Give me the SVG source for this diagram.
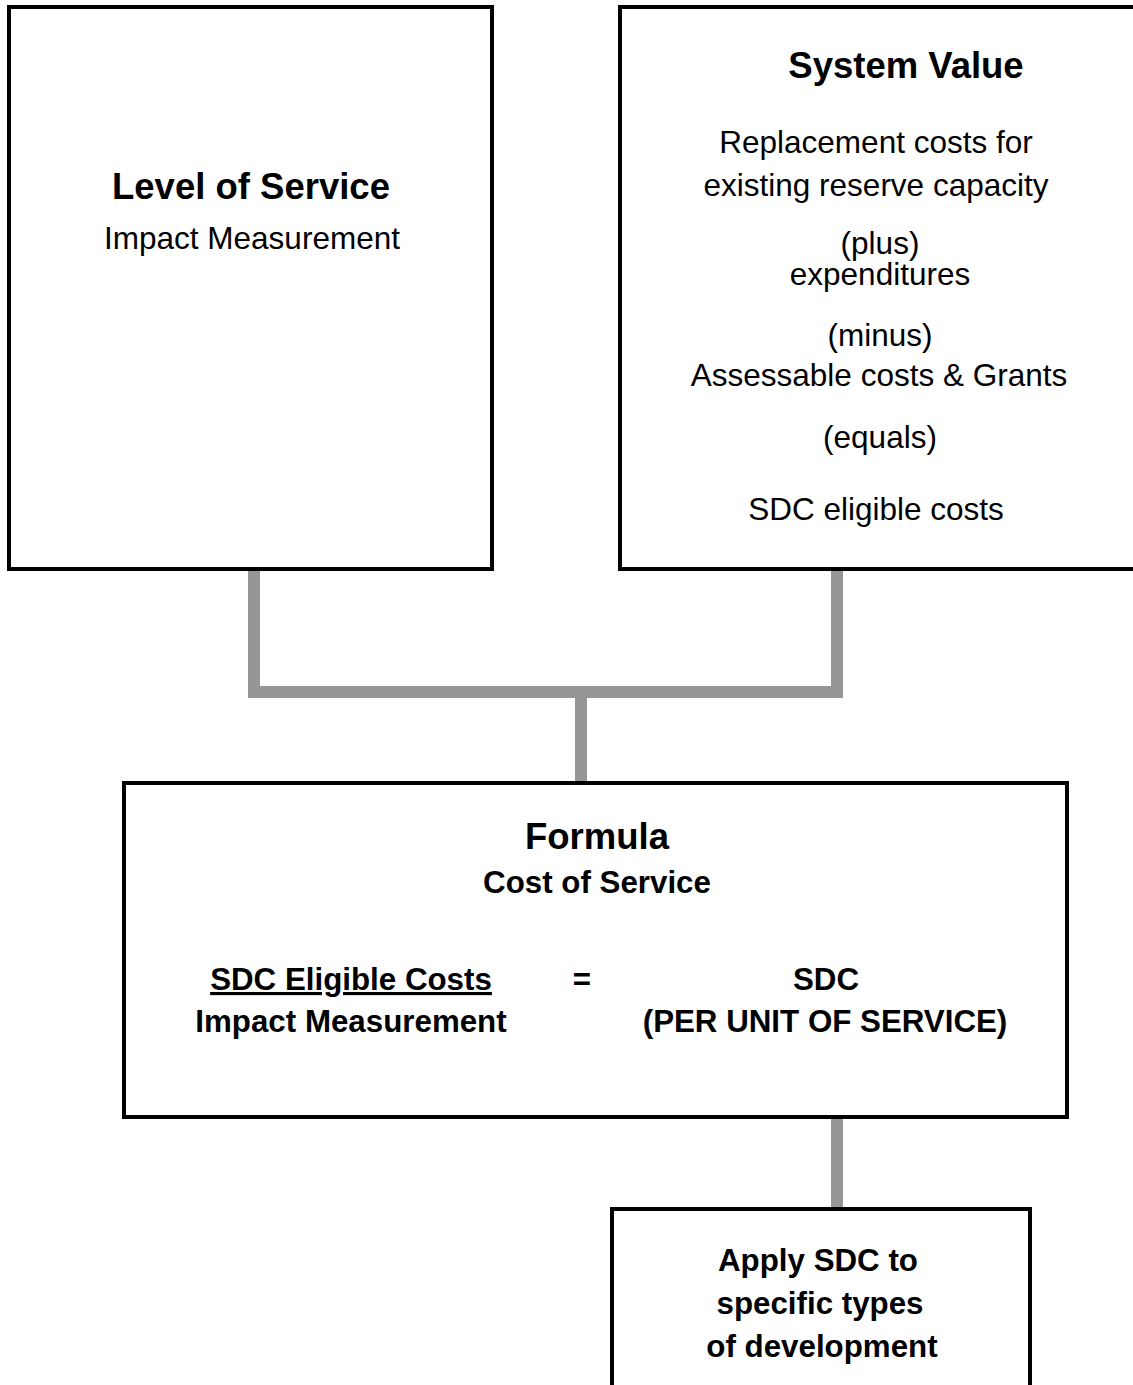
<svg xmlns="http://www.w3.org/2000/svg" width="1133" height="1385" viewBox="0 0 1133 1385">
<style>
.box{fill:#fff;stroke:#000;stroke-width:4}
.conn{fill:none;stroke:#969696;stroke-width:12;stroke-linejoin:miter;stroke-linecap:butt}
text{font-family:"Liberation Sans",Arial,sans-serif;fill:#000;text-anchor:middle}
.t{font-size:36.5px;font-weight:bold}
.r{font-size:31.5px}
.b{font-size:31.3px;font-weight:bold}
</style>
<rect width="1133" height="1385" fill="#fff"/>
<g id="connectors">
<path class="conn" d="M254 571 V692 H837 V571"/>
<path class="conn" d="M581 692 V781"/>
<path class="conn" d="M837 1119 V1207"/>
</g>
<g id="level-of-service">
<rect class="box" x="9" y="7" width="483" height="562"/>
<text class="t" x="251" y="199">Level of Service</text>
<text class="r" x="252" y="249">Impact Measurement</text>
</g>
<g id="system-value">
<rect class="box" x="620" y="7" width="600" height="562"/>
<text class="t" x="906" y="78">System Value</text>
<text class="r" x="876" y="153">Replacement costs for</text>
<text class="r" x="876" y="196">existing reserve capacity</text>
<text class="r" x="880" y="254">(plus)</text>
<text class="r" x="880" y="285">expenditures</text>
<text class="r" x="880" y="346">(minus)</text>
<text class="r" x="879" y="386">Assessable costs &amp; Grants</text>
<text class="r" x="880" y="448">(equals)</text>
<text class="r" x="876" y="520">SDC eligible costs</text>
</g>
<g id="formula">
<rect class="box" x="124" y="783" width="943" height="334"/>
<text class="t" x="597" y="849">Formula</text>
<text class="b" x="597" y="893">Cost of Service</text>
<text class="b" x="351" y="990" text-decoration="underline">SDC Eligible Costs</text>
<text class="b" x="582" y="990">=</text>
<text class="b" x="826" y="990">SDC</text>
<text class="b" x="351" y="1032">Impact Measurement</text>
<text class="b" x="825" y="1032">(PER UNIT OF SERVICE)</text>
</g>
<g id="apply-sdc">
<rect class="box" x="612" y="1209" width="418" height="260"/>
<text class="b" x="818" y="1271">Apply SDC to</text>
<text class="b" x="820" y="1314">specific types</text>
<text class="b" x="822" y="1357">of development</text>
</g>
</svg>
